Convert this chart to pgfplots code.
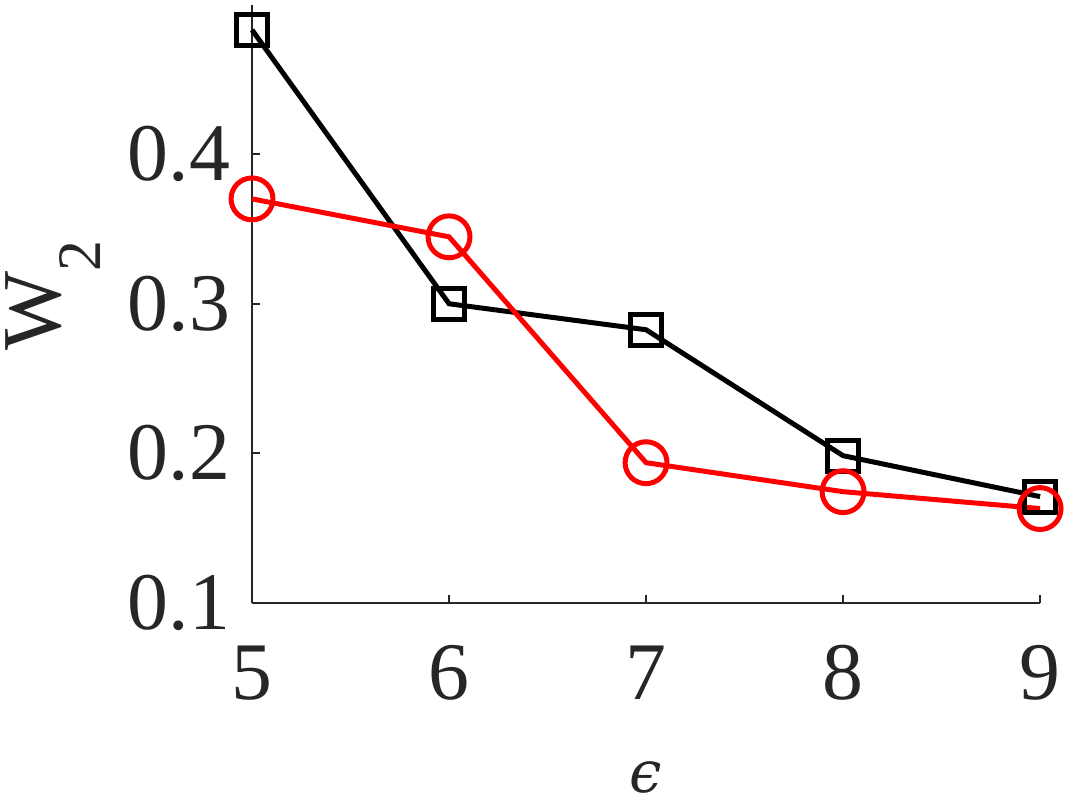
\documentclass[border=0pt]{standalone}
\usepackage{fontspec}
\setmainfont{Liberation Serif}
\newfontfamily\dvserif{DejaVu Serif}
\usepackage{pgfplots}
\pgfplotsset{compat=1.18}
\definecolor{axgray}{HTML}{262626}
\definecolor{mred}{HTML}{FF0000}

\begin{document}
\begin{tikzpicture}
\begin{axis}[
    scale only axis,
    width=395pt, height=299.5pt,
    xmin=5, xmax=9,
    ymin=0.1, ymax=0.5,
    xtick={5,6,7,8,9},
    ytick={0.1,0.2,0.3,0.4},
    y tick label style={/pgf/number format/fixed, /pgf/number format/fixed zerofill, /pgf/number format/precision=1},
    /pgf/number format/assume math mode=true,
    axis x line*=bottom,
    axis y line*=left,
    axis line style={axgray, line width=1pt},
    tick style={axgray, line width=1pt},
    tick align=inside,
    major tick length=4pt,
    ticklabel style={font=\fontsize{41}{41}\selectfont, text=axgray},
    x tick label style={yshift=-18pt},
    y tick label style={xshift=-7.5pt},
    xlabel={{\dvserif\itshape ϵ}},
    ylabel={W\raisebox{-20pt}{\fontsize{31}{31}\selectfont 2}},
    label style={text=axgray, inner sep=0pt},
    xlabel style={font=\fontsize{29}{29}\selectfont, yshift=-27pt},
    ylabel style={font=\fontsize{42}{42}\selectfont, inner ysep=3pt, yshift=7pt, xshift=4pt},
    clip=false,
]
\addplot[black, line width=2.5pt, mark=square, mark size=7.75pt,
    mark options={line width=2.5pt, solid}]
coordinates {
    (5,0.4833) (6,0.3000) (7,0.2826) (8,0.1983) (9,0.1709)
};
\addplot[mred, line width=2.5pt, mark=o, mark size=10.5pt,
    mark options={line width=2.5pt, solid}]
coordinates {
    (5,0.3702) (6,0.3448) (7,0.1936) (8,0.1742) (9,0.1629)
};
\end{axis}
% page margins as in the reference
\path (current axis.north east) ++(16pt,2.5pt);
\path (current axis.south west) ++(0,-104pt);
\end{tikzpicture}
\end{document}
